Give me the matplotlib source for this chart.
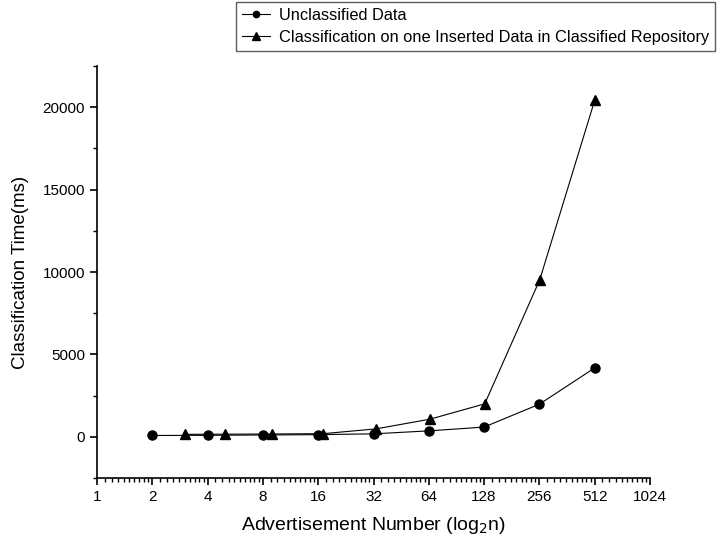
import matplotlib
matplotlib.use("Agg")
from matplotlib import pyplot as plt
from matplotlib.ticker import FixedLocator, LogLocator, MultipleLocator, NullFormatter
import numpy as np

plt.rcParams['font.family'] = ['Liberation Sans', 'DejaVu Sans']

# data
unclassified_n = [2, 4, 8, 16, 32, 64, 128, 256, 512]
unclassified_t = [80, 90, 110, 130, 180, 360, 590, 1980, 4180]

inserted_n = [3, 5, 9, 17, 33, 65, 129, 257, 513]
inserted_t = [150, 160, 170, 190, 480, 1070, 2000, 9520, 20450]

xticks = [1, 2, 4, 8, 16, 32, 64, 128, 256, 512, 1024]

fig = plt.figure(figsize=(7.21, 5.46), dpi=100)
ax = fig.add_axes([97 / 721, 1 - 478 / 546, (650 - 97) / 721, (478 - 66) / 546])

ax.plot(unclassified_n, unclassified_t, color='black', lw=0.8, marker='o', ms=6.5,
        label='Unclassified Data')
ax.plot(inserted_n, inserted_t, color='black', lw=0.8, marker='^', ms=7.5,
        label='Classification on one Inserted Data in Classified Repository')

ax.set_xscale('log', base=2)
ax.set_xlim(1, 1024)
ax.set_ylim(-2500, 22500)
ax.xaxis.set_major_locator(FixedLocator(xticks))
ax.set_xticklabels([str(v) for v in xticks])
ax.xaxis.set_minor_locator(LogLocator(base=2, subs=np.arange(1.1, 2.0, 0.1), numticks=50))
ax.xaxis.set_minor_formatter(NullFormatter())
ax.yaxis.set_major_locator(FixedLocator([0, 5000, 10000, 15000, 20000]))
ax.yaxis.set_minor_locator(MultipleLocator(2500))

for s in ['top', 'right']:
    ax.spines[s].set_visible(False)
for s in ['left', 'bottom']:
    ax.spines[s].set_linewidth(1.2)
ax.tick_params(which='major', direction='out', length=5, width=1.2, labelsize=11)
ax.tick_params(which='minor', direction='out', length=3, width=1.0)

ax.set_xlabel('Advertisement Number (log$_2$n)', fontsize=14, labelpad=8)
ax.set_ylabel('Classification Time(ms)', fontsize=13.5, labelpad=10)

leg = ax.legend(loc='upper left', bbox_to_anchor=(236 / 721, 1 - 2 / 546),
                bbox_transform=fig.transFigure, fontsize=11.8, fancybox=False,
                edgecolor='#333333', handlelength=1.7, borderaxespad=0,
                handletextpad=0.55, labelspacing=0.45, borderpad=0.35,
                markerscale=0.7)
leg.get_frame().set_linewidth(1.0)

fig.savefig('out.png', dpi=100)
